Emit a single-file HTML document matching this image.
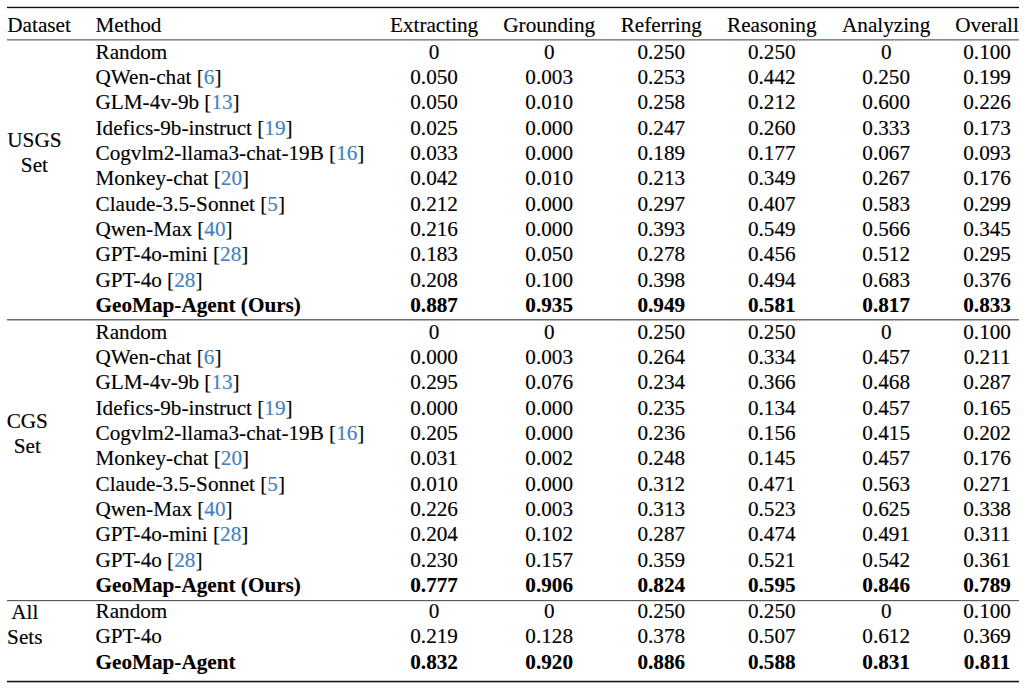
<!DOCTYPE html>
<html><head><meta charset="utf-8"><style>
html,body{margin:0;padding:0;background:#fff;}
body{width:1024px;height:686px;position:relative;overflow:hidden;}
#w{position:absolute;left:0;top:0;width:1024px;height:686px;}
.t{position:absolute;-webkit-text-stroke:0.15px currentColor;font-family:"Liberation Serif",serif;font-size:21.2px;line-height:25.5px;white-space:nowrap;color:#000;}
.b{font-weight:bold;}
.c{color:#4281c1;}
.r{position:absolute;left:7px;width:1012px;}
</style></head><body><div id="w">
<div class="t" style="left:7.30px;top:13.09px">Dataset</div>
<div class="t" style="left:95.50px;top:13.09px">Method</div>
<div class="t" style="left:284.10px;top:13.09px;width:300px;text-align:center">Extracting</div>
<div class="t" style="left:399.20px;top:13.09px;width:300px;text-align:center">Grounding</div>
<div class="t" style="left:511.30px;top:13.09px;width:300px;text-align:center">Referring</div>
<div class="t" style="left:621.80px;top:13.09px;width:300px;text-align:center">Reasoning</div>
<div class="t" style="left:736.20px;top:13.09px;width:300px;text-align:center">Analyzing</div>
<div class="t" style="left:837.10px;top:13.09px;width:300px;text-align:center">Overall</div>
<div class="t" style="left:95.50px;top:39.80px">Random</div>
<div class="t" style="left:284.10px;top:39.80px;width:300px;text-align:center">0</div>
<div class="t" style="left:399.20px;top:39.80px;width:300px;text-align:center">0</div>
<div class="t" style="left:511.30px;top:39.80px;width:300px;text-align:center">0.250</div>
<div class="t" style="left:621.80px;top:39.80px;width:300px;text-align:center">0.250</div>
<div class="t" style="left:736.20px;top:39.80px;width:300px;text-align:center">0</div>
<div class="t" style="left:837.10px;top:39.80px;width:300px;text-align:center">0.100</div>
<div class="t" style="left:95.50px;top:65.12px">QWen-chat [<span class="c">6</span>]</div>
<div class="t" style="left:284.10px;top:65.12px;width:300px;text-align:center">0.050</div>
<div class="t" style="left:399.20px;top:65.12px;width:300px;text-align:center">0.003</div>
<div class="t" style="left:511.30px;top:65.12px;width:300px;text-align:center">0.253</div>
<div class="t" style="left:621.80px;top:65.12px;width:300px;text-align:center">0.442</div>
<div class="t" style="left:736.20px;top:65.12px;width:300px;text-align:center">0.250</div>
<div class="t" style="left:837.10px;top:65.12px;width:300px;text-align:center">0.199</div>
<div class="t" style="left:95.50px;top:90.45px">GLM-4v-9b [<span class="c">13</span>]</div>
<div class="t" style="left:284.10px;top:90.45px;width:300px;text-align:center">0.050</div>
<div class="t" style="left:399.20px;top:90.45px;width:300px;text-align:center">0.010</div>
<div class="t" style="left:511.30px;top:90.45px;width:300px;text-align:center">0.258</div>
<div class="t" style="left:621.80px;top:90.45px;width:300px;text-align:center">0.212</div>
<div class="t" style="left:736.20px;top:90.45px;width:300px;text-align:center">0.600</div>
<div class="t" style="left:837.10px;top:90.45px;width:300px;text-align:center">0.226</div>
<div class="t" style="left:95.50px;top:115.78px">Idefics-9b-instruct [<span class="c">19</span>]</div>
<div class="t" style="left:284.10px;top:115.78px;width:300px;text-align:center">0.025</div>
<div class="t" style="left:399.20px;top:115.78px;width:300px;text-align:center">0.000</div>
<div class="t" style="left:511.30px;top:115.78px;width:300px;text-align:center">0.247</div>
<div class="t" style="left:621.80px;top:115.78px;width:300px;text-align:center">0.260</div>
<div class="t" style="left:736.20px;top:115.78px;width:300px;text-align:center">0.333</div>
<div class="t" style="left:837.10px;top:115.78px;width:300px;text-align:center">0.173</div>
<div class="t" style="left:95.50px;top:141.11px">Cogvlm2-llama3-chat-19B [<span class="c">16</span>]</div>
<div class="t" style="left:284.10px;top:141.11px;width:300px;text-align:center">0.033</div>
<div class="t" style="left:399.20px;top:141.11px;width:300px;text-align:center">0.000</div>
<div class="t" style="left:511.30px;top:141.11px;width:300px;text-align:center">0.189</div>
<div class="t" style="left:621.80px;top:141.11px;width:300px;text-align:center">0.177</div>
<div class="t" style="left:736.20px;top:141.11px;width:300px;text-align:center">0.067</div>
<div class="t" style="left:837.10px;top:141.11px;width:300px;text-align:center">0.093</div>
<div class="t" style="left:95.50px;top:166.44px">Monkey-chat [<span class="c">20</span>]</div>
<div class="t" style="left:284.10px;top:166.44px;width:300px;text-align:center">0.042</div>
<div class="t" style="left:399.20px;top:166.44px;width:300px;text-align:center">0.010</div>
<div class="t" style="left:511.30px;top:166.44px;width:300px;text-align:center">0.213</div>
<div class="t" style="left:621.80px;top:166.44px;width:300px;text-align:center">0.349</div>
<div class="t" style="left:736.20px;top:166.44px;width:300px;text-align:center">0.267</div>
<div class="t" style="left:837.10px;top:166.44px;width:300px;text-align:center">0.176</div>
<div class="t" style="left:95.50px;top:191.78px">Claude-3.5-Sonnet [<span class="c">5</span>]</div>
<div class="t" style="left:284.10px;top:191.78px;width:300px;text-align:center">0.212</div>
<div class="t" style="left:399.20px;top:191.78px;width:300px;text-align:center">0.000</div>
<div class="t" style="left:511.30px;top:191.78px;width:300px;text-align:center">0.297</div>
<div class="t" style="left:621.80px;top:191.78px;width:300px;text-align:center">0.407</div>
<div class="t" style="left:736.20px;top:191.78px;width:300px;text-align:center">0.583</div>
<div class="t" style="left:837.10px;top:191.78px;width:300px;text-align:center">0.299</div>
<div class="t" style="left:95.50px;top:217.10px">Qwen-Max [<span class="c">40</span>]</div>
<div class="t" style="left:284.10px;top:217.10px;width:300px;text-align:center">0.216</div>
<div class="t" style="left:399.20px;top:217.10px;width:300px;text-align:center">0.000</div>
<div class="t" style="left:511.30px;top:217.10px;width:300px;text-align:center">0.393</div>
<div class="t" style="left:621.80px;top:217.10px;width:300px;text-align:center">0.549</div>
<div class="t" style="left:736.20px;top:217.10px;width:300px;text-align:center">0.566</div>
<div class="t" style="left:837.10px;top:217.10px;width:300px;text-align:center">0.345</div>
<div class="t" style="left:95.50px;top:242.43px">GPT-4o-mini [<span class="c">28</span>]</div>
<div class="t" style="left:284.10px;top:242.43px;width:300px;text-align:center">0.183</div>
<div class="t" style="left:399.20px;top:242.43px;width:300px;text-align:center">0.050</div>
<div class="t" style="left:511.30px;top:242.43px;width:300px;text-align:center">0.278</div>
<div class="t" style="left:621.80px;top:242.43px;width:300px;text-align:center">0.456</div>
<div class="t" style="left:736.20px;top:242.43px;width:300px;text-align:center">0.512</div>
<div class="t" style="left:837.10px;top:242.43px;width:300px;text-align:center">0.295</div>
<div class="t" style="left:95.50px;top:267.76px">GPT-4o [<span class="c">28</span>]</div>
<div class="t" style="left:284.10px;top:267.76px;width:300px;text-align:center">0.208</div>
<div class="t" style="left:399.20px;top:267.76px;width:300px;text-align:center">0.100</div>
<div class="t" style="left:511.30px;top:267.76px;width:300px;text-align:center">0.398</div>
<div class="t" style="left:621.80px;top:267.76px;width:300px;text-align:center">0.494</div>
<div class="t" style="left:736.20px;top:267.76px;width:300px;text-align:center">0.683</div>
<div class="t" style="left:837.10px;top:267.76px;width:300px;text-align:center">0.376</div>
<div class="t b" style="left:95.50px;top:293.10px">GeoMap-Agent (Ours)</div>
<div class="t b" style="left:284.10px;top:293.10px;width:300px;text-align:center">0.887</div>
<div class="t b" style="left:399.20px;top:293.10px;width:300px;text-align:center">0.935</div>
<div class="t b" style="left:511.30px;top:293.10px;width:300px;text-align:center">0.949</div>
<div class="t b" style="left:621.80px;top:293.10px;width:300px;text-align:center">0.581</div>
<div class="t b" style="left:736.20px;top:293.10px;width:300px;text-align:center">0.817</div>
<div class="t b" style="left:837.10px;top:293.10px;width:300px;text-align:center">0.833</div>
<div class="t" style="left:95.50px;top:319.50px">Random</div>
<div class="t" style="left:284.10px;top:319.50px;width:300px;text-align:center">0</div>
<div class="t" style="left:399.20px;top:319.50px;width:300px;text-align:center">0</div>
<div class="t" style="left:511.30px;top:319.50px;width:300px;text-align:center">0.250</div>
<div class="t" style="left:621.80px;top:319.50px;width:300px;text-align:center">0.250</div>
<div class="t" style="left:736.20px;top:319.50px;width:300px;text-align:center">0</div>
<div class="t" style="left:837.10px;top:319.50px;width:300px;text-align:center">0.100</div>
<div class="t" style="left:95.50px;top:344.85px">QWen-chat [<span class="c">6</span>]</div>
<div class="t" style="left:284.10px;top:344.85px;width:300px;text-align:center">0.000</div>
<div class="t" style="left:399.20px;top:344.85px;width:300px;text-align:center">0.003</div>
<div class="t" style="left:511.30px;top:344.85px;width:300px;text-align:center">0.264</div>
<div class="t" style="left:621.80px;top:344.85px;width:300px;text-align:center">0.334</div>
<div class="t" style="left:736.20px;top:344.85px;width:300px;text-align:center">0.457</div>
<div class="t" style="left:837.10px;top:344.85px;width:300px;text-align:center">0.211</div>
<div class="t" style="left:95.50px;top:370.19px">GLM-4v-9b [<span class="c">13</span>]</div>
<div class="t" style="left:284.10px;top:370.19px;width:300px;text-align:center">0.295</div>
<div class="t" style="left:399.20px;top:370.19px;width:300px;text-align:center">0.076</div>
<div class="t" style="left:511.30px;top:370.19px;width:300px;text-align:center">0.234</div>
<div class="t" style="left:621.80px;top:370.19px;width:300px;text-align:center">0.366</div>
<div class="t" style="left:736.20px;top:370.19px;width:300px;text-align:center">0.468</div>
<div class="t" style="left:837.10px;top:370.19px;width:300px;text-align:center">0.287</div>
<div class="t" style="left:95.50px;top:395.54px">Idefics-9b-instruct [<span class="c">19</span>]</div>
<div class="t" style="left:284.10px;top:395.54px;width:300px;text-align:center">0.000</div>
<div class="t" style="left:399.20px;top:395.54px;width:300px;text-align:center">0.000</div>
<div class="t" style="left:511.30px;top:395.54px;width:300px;text-align:center">0.235</div>
<div class="t" style="left:621.80px;top:395.54px;width:300px;text-align:center">0.134</div>
<div class="t" style="left:736.20px;top:395.54px;width:300px;text-align:center">0.457</div>
<div class="t" style="left:837.10px;top:395.54px;width:300px;text-align:center">0.165</div>
<div class="t" style="left:95.50px;top:420.89px">Cogvlm2-llama3-chat-19B [<span class="c">16</span>]</div>
<div class="t" style="left:284.10px;top:420.89px;width:300px;text-align:center">0.205</div>
<div class="t" style="left:399.20px;top:420.89px;width:300px;text-align:center">0.000</div>
<div class="t" style="left:511.30px;top:420.89px;width:300px;text-align:center">0.236</div>
<div class="t" style="left:621.80px;top:420.89px;width:300px;text-align:center">0.156</div>
<div class="t" style="left:736.20px;top:420.89px;width:300px;text-align:center">0.415</div>
<div class="t" style="left:837.10px;top:420.89px;width:300px;text-align:center">0.202</div>
<div class="t" style="left:95.50px;top:446.25px">Monkey-chat [<span class="c">20</span>]</div>
<div class="t" style="left:284.10px;top:446.25px;width:300px;text-align:center">0.031</div>
<div class="t" style="left:399.20px;top:446.25px;width:300px;text-align:center">0.002</div>
<div class="t" style="left:511.30px;top:446.25px;width:300px;text-align:center">0.248</div>
<div class="t" style="left:621.80px;top:446.25px;width:300px;text-align:center">0.145</div>
<div class="t" style="left:736.20px;top:446.25px;width:300px;text-align:center">0.457</div>
<div class="t" style="left:837.10px;top:446.25px;width:300px;text-align:center">0.176</div>
<div class="t" style="left:95.50px;top:471.60px">Claude-3.5-Sonnet [<span class="c">5</span>]</div>
<div class="t" style="left:284.10px;top:471.60px;width:300px;text-align:center">0.010</div>
<div class="t" style="left:399.20px;top:471.60px;width:300px;text-align:center">0.000</div>
<div class="t" style="left:511.30px;top:471.60px;width:300px;text-align:center">0.312</div>
<div class="t" style="left:621.80px;top:471.60px;width:300px;text-align:center">0.471</div>
<div class="t" style="left:736.20px;top:471.60px;width:300px;text-align:center">0.563</div>
<div class="t" style="left:837.10px;top:471.60px;width:300px;text-align:center">0.271</div>
<div class="t" style="left:95.50px;top:496.95px">Qwen-Max [<span class="c">40</span>]</div>
<div class="t" style="left:284.10px;top:496.95px;width:300px;text-align:center">0.226</div>
<div class="t" style="left:399.20px;top:496.95px;width:300px;text-align:center">0.003</div>
<div class="t" style="left:511.30px;top:496.95px;width:300px;text-align:center">0.313</div>
<div class="t" style="left:621.80px;top:496.95px;width:300px;text-align:center">0.523</div>
<div class="t" style="left:736.20px;top:496.95px;width:300px;text-align:center">0.625</div>
<div class="t" style="left:837.10px;top:496.95px;width:300px;text-align:center">0.338</div>
<div class="t" style="left:95.50px;top:522.30px">GPT-4o-mini [<span class="c">28</span>]</div>
<div class="t" style="left:284.10px;top:522.30px;width:300px;text-align:center">0.204</div>
<div class="t" style="left:399.20px;top:522.30px;width:300px;text-align:center">0.102</div>
<div class="t" style="left:511.30px;top:522.30px;width:300px;text-align:center">0.287</div>
<div class="t" style="left:621.80px;top:522.30px;width:300px;text-align:center">0.474</div>
<div class="t" style="left:736.20px;top:522.30px;width:300px;text-align:center">0.491</div>
<div class="t" style="left:837.10px;top:522.30px;width:300px;text-align:center">0.311</div>
<div class="t" style="left:95.50px;top:547.64px">GPT-4o [<span class="c">28</span>]</div>
<div class="t" style="left:284.10px;top:547.64px;width:300px;text-align:center">0.230</div>
<div class="t" style="left:399.20px;top:547.64px;width:300px;text-align:center">0.157</div>
<div class="t" style="left:511.30px;top:547.64px;width:300px;text-align:center">0.359</div>
<div class="t" style="left:621.80px;top:547.64px;width:300px;text-align:center">0.521</div>
<div class="t" style="left:736.20px;top:547.64px;width:300px;text-align:center">0.542</div>
<div class="t" style="left:837.10px;top:547.64px;width:300px;text-align:center">0.361</div>
<div class="t b" style="left:95.50px;top:573.00px">GeoMap-Agent (Ours)</div>
<div class="t b" style="left:284.10px;top:573.00px;width:300px;text-align:center">0.777</div>
<div class="t b" style="left:399.20px;top:573.00px;width:300px;text-align:center">0.906</div>
<div class="t b" style="left:511.30px;top:573.00px;width:300px;text-align:center">0.824</div>
<div class="t b" style="left:621.80px;top:573.00px;width:300px;text-align:center">0.595</div>
<div class="t b" style="left:736.20px;top:573.00px;width:300px;text-align:center">0.846</div>
<div class="t b" style="left:837.10px;top:573.00px;width:300px;text-align:center">0.789</div>
<div class="t" style="left:95.50px;top:598.89px">Random</div>
<div class="t" style="left:284.10px;top:598.89px;width:300px;text-align:center">0</div>
<div class="t" style="left:399.20px;top:598.89px;width:300px;text-align:center">0</div>
<div class="t" style="left:511.30px;top:598.89px;width:300px;text-align:center">0.250</div>
<div class="t" style="left:621.80px;top:598.89px;width:300px;text-align:center">0.250</div>
<div class="t" style="left:736.20px;top:598.89px;width:300px;text-align:center">0</div>
<div class="t" style="left:837.10px;top:598.89px;width:300px;text-align:center">0.100</div>
<div class="t" style="left:95.50px;top:624.39px">GPT-4o</div>
<div class="t" style="left:284.10px;top:624.39px;width:300px;text-align:center">0.219</div>
<div class="t" style="left:399.20px;top:624.39px;width:300px;text-align:center">0.128</div>
<div class="t" style="left:511.30px;top:624.39px;width:300px;text-align:center">0.378</div>
<div class="t" style="left:621.80px;top:624.39px;width:300px;text-align:center">0.507</div>
<div class="t" style="left:736.20px;top:624.39px;width:300px;text-align:center">0.612</div>
<div class="t" style="left:837.10px;top:624.39px;width:300px;text-align:center">0.369</div>
<div class="t b" style="left:95.50px;top:649.89px">GeoMap-Agent</div>
<div class="t b" style="left:284.10px;top:649.89px;width:300px;text-align:center">0.832</div>
<div class="t b" style="left:399.20px;top:649.89px;width:300px;text-align:center">0.920</div>
<div class="t b" style="left:511.30px;top:649.89px;width:300px;text-align:center">0.886</div>
<div class="t b" style="left:621.80px;top:649.89px;width:300px;text-align:center">0.588</div>
<div class="t b" style="left:736.20px;top:649.89px;width:300px;text-align:center">0.831</div>
<div class="t b" style="left:837.10px;top:649.89px;width:300px;text-align:center">0.811</div>
<div class="t" style="left:7.3px;top:127.69px;text-align:center"><div style="position:relative;top:0.00px">USGS</div><div style="position:relative;top:0.20px">Set</div></div>
<div class="t" style="left:6.7px;top:409.00px;text-align:center"><div style="position:relative;top:0.00px">CGS</div><div style="position:relative;top:-0.80px">Set</div></div>
<div class="t" style="left:7.1px;top:599.60px;text-align:center"><div style="position:relative;top:0.00px">All</div><div style="position:relative;top:0.30px">Sets</div></div>
<div class="r" style="top:6px;height:1px;background:#c8c8c8"></div>
<div class="r" style="top:7px;height:1px;background:#111"></div>
<div class="r" style="top:8px;height:1px;background:#d8d8d8"></div>
<div class="r" style="top:39px;height:1px;background:#8a8a8a"></div>
<div class="r" style="top:40px;height:1px;background:#b4b4b4"></div>
<div class="r" style="top:319px;height:1px;background:#6c6c6c"></div>
<div class="r" style="top:320px;height:1px;background:#b4b4b4"></div>
<div class="r" style="top:600px;height:1px;background:#5c5c5c"></div>
<div class="r" style="top:601px;height:1px;background:#e0e0e0"></div>
<div class="r" style="top:680px;height:1px;background:#c8c8c8"></div>
<div class="r" style="top:681px;height:1px;background:#161616"></div>
<div class="r" style="top:682px;height:1px;background:#b0b0b0"></div>
</div></body></html>
